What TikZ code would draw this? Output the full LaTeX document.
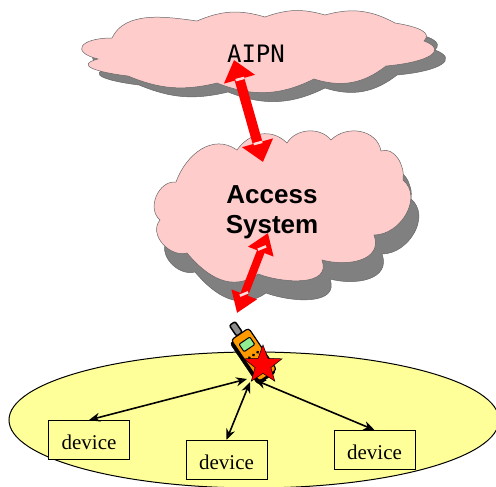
\documentclass[tikz,border=0pt]{standalone}
\usepackage{fontspec}
\setmainfont{Liberation Serif}
\setsansfont{Liberation Sans}
\setmonofont{DejaVu Sans Mono}
\usetikzlibrary{arrows.meta,shapes.geometric}
\definecolor{cloudpink}{HTML}{FFCCCC}
\definecolor{cellyellow}{HTML}{FFFF99}
\definecolor{phoneorange}{HTML}{FF9900}
\definecolor{phonegreen}{HTML}{90EE90}
\tikzset{
  cloudbody/.style={fill=cloudpink,draw=black!60,line width=0.5pt},
  cloudshadow/.style={fill=black!50,draw=black!60,line width=0.5pt},
  devicebox/.style={draw,line width=1pt,fill=cellyellow,minimum width=81pt,minimum height=39pt,inner sep=0pt,text height=18.4pt,text depth=0pt,font=\fontsize{21}{21}\selectfont},
  radiolink/.style={line width=1.6pt,{Stealth[length=11pt,width=9pt,open,fill=black!60]}-{Stealth[length=11pt,width=9pt,open,fill=black!60]}},
  tipmark/.style={fill=cloudpink!70!white,minimum width=9pt,minimum height=2.5pt,inner sep=0pt}
}
\begin{document}
\begin{tikzpicture}[x=1pt,y=-1pt]
\useasboundingbox (0,0) rectangle (496,487);
% upper cloud
\def\aipnpath{(112,38) to[out=65,in=172,looseness=0.9] (197,21) to[bend left=20] (265,17) to[bend left=18] (325,15) to[bend left=22] (395,23) .. controls (420,27) and (432,33) .. (424,41) .. controls (448,50) and (430,62) .. (386,66) to[bend left=28] (314,79) to[bend left=24] (217,83) to[bend left=18] (128,76) .. controls (95,72) and (75,65) .. (98,59) .. controls (70,52) and (80,38) .. (112,38) -- cycle}
\draw[cloudshadow,shift={(11,9)}] \aipnpath;
\draw[cloudbody] \aipnpath;
% lower cloud
\def\accesspath{(176,182) to[out=70,in=145,looseness=1.1] (237,150) to[out=55,in=135,looseness=1.1] (287,143) to[bend left=55] (331,140) to[out=45,in=100,looseness=1.1] (381,151) to[out=20,in=80,looseness=1] (403,180) to[out=-40,in=0,looseness=1.1] (374,235) to[out=-70,in=-15,looseness=1.2] (322,260) to[out=-70,in=-20,looseness=1.1] (258,274) to[out=-145,in=-50,looseness=1.1] (187,253) to[out=-165,in=-130,looseness=1.1] (160,220) to[out=140,in=175,looseness=1.1] (176,182) -- cycle}
\draw[cloudshadow,shift={(8,19)}] \accesspath;
\draw[cloudbody] \accesspath;
% cell
\draw[fill=cellyellow,line width=1pt] (254,420) ellipse (245 and 68);
\node (aipn) at (256,54) {\fontsize{24}{24}\selectfont\ttfamily AIPN};
\node[align=center,font=\fontsize{26}{30}\selectfont\sffamily\bfseries] (access) at (272,212) {Access\\System};
% links between the clouds
\coordinate (aipntip) at (234,60);
\coordinate (accesstop) at (263,162);
\coordinate (accesstip) at (268,233);
\coordinate (phonetip) at (237,313);
\draw[draw=red,line width=10pt,{Triangle[width=31pt,length=20pt]}-{Triangle[width=31pt,length=20pt]}] (aipntip) -- (accesstop);
\draw[draw=red,line width=8pt,{Triangle[width=26pt,length=20pt]}-{Triangle[width=26pt,length=20pt]}] (accesstip) -- (phonetip);
\node[tipmark,rotate=15] (markA) at (240,79) {};
\node[tipmark,rotate=15] (markB) at (258,143) {};
\node[tipmark,rotate=22] (markC) at (262,248) {};
\node[tipmark,rotate=22] (markD) at (244,294) {};
% devices
\node[devicebox] (devA) at (89,440) {device};
\node[devicebox] (devB) at (226.5,460) {device};
\node[devicebox] (devC) at (374.5,450) {device};
\coordinate (hubA) at (247,379);
\coordinate (hubB) at (250,382);
\coordinate (hubC) at (255,380);
\draw[radiolink] (hubA) -- (devA.north);
\draw[radiolink] (hubB) -- (devB.north);
\draw[radiolink] (hubC) -- (devC.north);
% phone
\begin{scope}[shift={(253.5,355)},rotate=-56]
\draw[fill=black!45,line width=1.5pt,rounded corners=2pt] (-25,-3.5) -- (-38,-3.5) -- (-38,3.5) -- (-25,3.5) -- cycle;
\draw[fill=black,rounded corners=3pt] (-23,-9) rectangle (27,13);
\draw[fill=phoneorange,rounded corners=3pt,line width=1.2pt] (-25,-11) rectangle (25,10);
\draw[fill=phonegreen,line width=1pt,rounded corners=1pt] (-17,-7) rectangle (-8,6);
\foreach \a in {0,6,12}
  \foreach \b in {-5,0,5}
    \fill (\a,\b) circle (1.6);
\end{scope}
\node[star,star points=5,star point ratio=2.4,fill=red,draw=black,line width=0.5pt,minimum size=40pt,inner sep=0pt] (alert) at (263,365) {};
\end{tikzpicture}
\end{document}
